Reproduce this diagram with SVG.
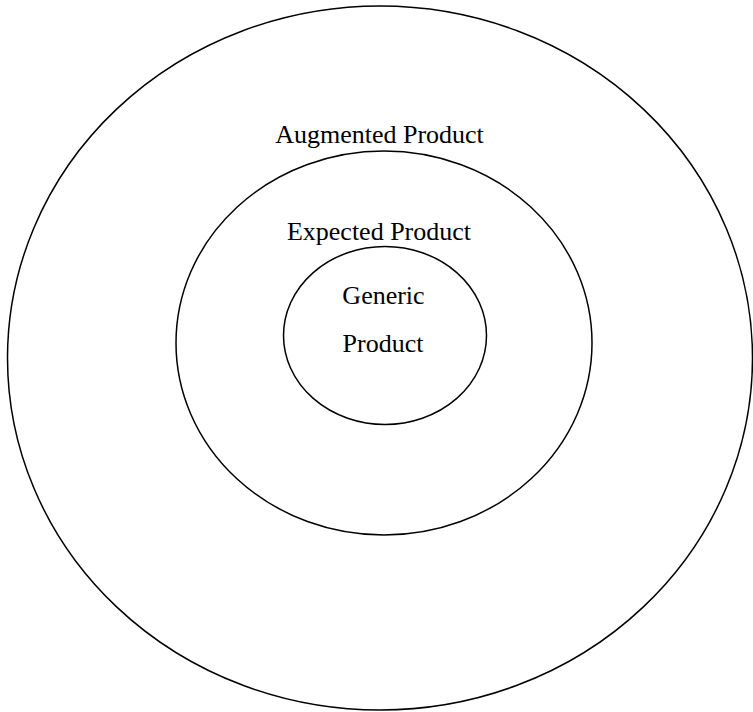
<svg xmlns="http://www.w3.org/2000/svg" width="753" height="712" viewBox="0 0 753 712">
<style>
.ring{fill:none;stroke:#000;stroke-width:1.5}
.lbl{font-family:"Liberation Serif","Times New Roman",serif;font-size:26px;fill:#000;text-anchor:middle}
</style>
<rect width="753" height="712" fill="#fff"/>
<g id="augmented">
<ellipse class="ring" cx="380" cy="358" rx="372.5" ry="352"/>
<text class="lbl" x="379.5" y="142.5">Augmented Product</text>
</g>
<g id="expected">
<ellipse class="ring" cx="384" cy="343" rx="208" ry="192"/>
<text class="lbl" x="379" y="239.5">Expected Product</text>
</g>
<g id="generic">
<ellipse class="ring" cx="385" cy="335.5" rx="101.5" ry="89"/>
<text class="lbl" x="383.5" y="304">Generic</text>
<text class="lbl" x="383" y="351.5">Product</text>
</g>
<g id="connectors"/>
</svg>
